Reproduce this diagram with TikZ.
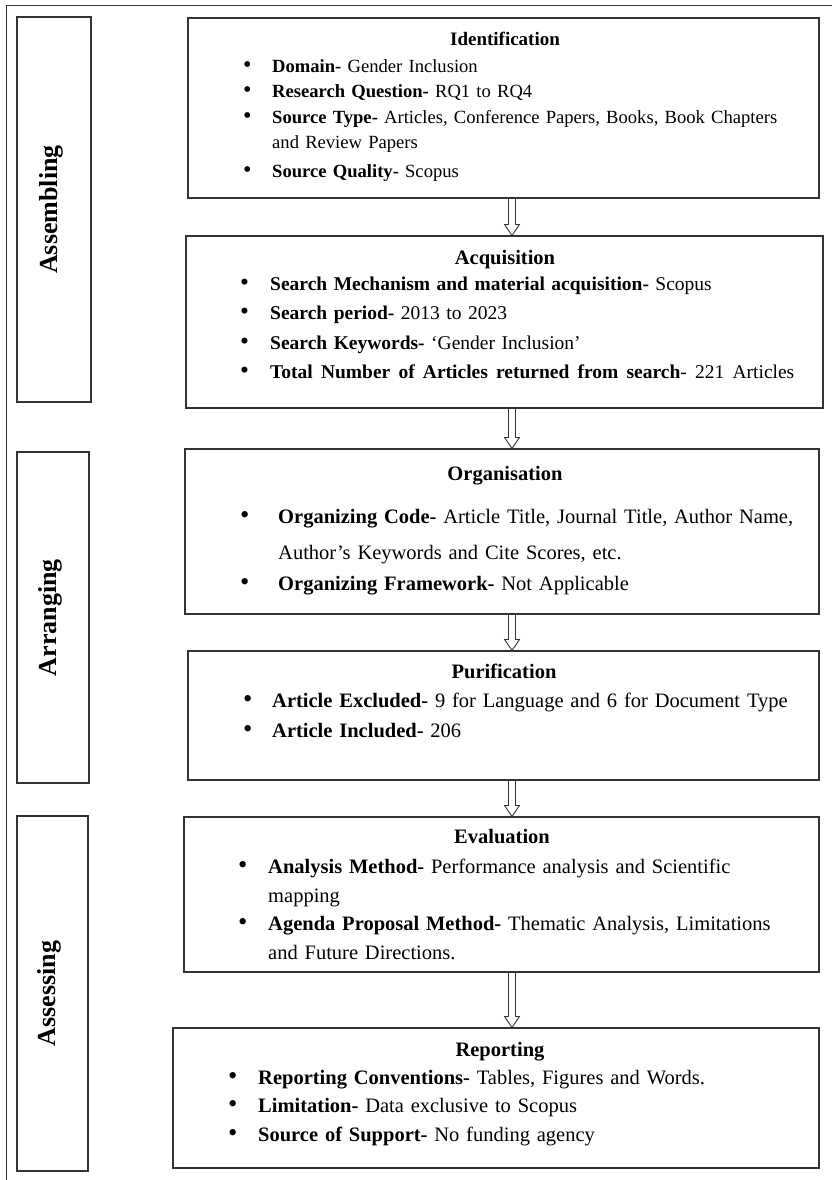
\documentclass[tikz,border=0pt]{standalone}
\usepackage{graphicx}
\usepackage{fontspec}
\setmainfont{Liberation Serif}
\usetikzlibrary{positioning}
\usetikzlibrary{fit}
\usetikzlibrary{calc}

\newcommand{\bitem}[3][30pt]{\makebox[#1][l]{\scalebox{1.3}{\textbullet}}\textbf{#2}#3}
\newcommand{\cont}[1][30pt]{\hspace*{#1}}

\begin{document}
\begin{tikzpicture}[x=1pt,y=-1pt,
		box/.style={draw=black!80,line width=1.1pt,inner sep=0pt},
		side/.style={font=\fontsize{26}{30}\selectfont\bfseries,rotate=90},
		head/.style={font=\fontsize{20.5}{24}\selectfont\bfseries,anchor=base},
		list/.style={anchor=north west,inner sep=0pt,text width=590pt,align=left},
		hollow/.style={draw=black!80,line width=0.9pt,to path={
			let \p1=(\tikztostart),\p2=(\tikztotarget) in
			(\x1-3.5pt,\y1) -- (\x1-3.5pt,\y2+11pt) -- (\x1-7.5pt,\y2+11pt)
			-- (\x1,\y2) -- (\x1+7.5pt,\y2+11pt) -- (\x1+3.5pt,\y2+11pt) -- (\x1+3.5pt,\y1)}}]
				    \useasboundingbox (0,0) rectangle (832,1180);
				    % Frame
				    \draw[black!80,line width=1pt] (832,6) -- (6,6) -- (6,1180);
				    % Stages
				    \node[box,fit={(17,17) (91,402)}] (assem) {};
				    \node[side] (assemT) at ([xshift=-3pt]assem.center) {Assembling};
				    \node[box,fit={(17,452) (89,783)}] (arran) {};
				    \node[side] (arranT) at ([xshift=-3pt]arran.center) {Arranging};
				    \node[box,fit={(17,816) (88,1171)}] (asses) {};
				    \node[side] (assesT) at ([xshift=-3pt]asses.center) {Assessing};
				
				    % Identification
				    \node[box,fit={(188,18) (819,198)}] (ident) {};
				    \node[head,font=\fontsize{19}{22}\selectfont\bfseries] (identT) at (505,46) {Identification};
				    \node[list,font=\fontsize{18.6}{25.5}\selectfont] (identL) at (243,59) {
				    	\bitem[29pt]{Domain- }{Gender Inclusion}\\
				    	\bitem[29pt]{Research Question- }{RQ1 to RQ4}\\
				    	\bitem[29pt]{Source Type- }{Articles, Conference Papers, Books, Book Chapters}\\
				    	\cont[29pt]and Review Papers\\[3.5pt]
				    	\bitem[29pt]{Source Quality- }{Scopus}};
				
				    % Acquisition
				    \node[box,fit={(186,236) (823,408)}] (acq) {};
				    \node[head] (acqT) at (505,264) {Acquisition};
				    \node[list,font=\fontsize{19.5}{29.5}\selectfont] (acqL) at (240,276.5) {
				    	\bitem{Search Mechanism and material acquisition- }{Scopus}\\
				    	\bitem{Search period- }{2013 to 2023}\\
				    	\bitem{Search Keywords- }{‘Gender Inclusion’}\\
				    	\bitem{}{{\spaceskip=8.2pt\textbf{Total Number of Articles returned from search}- 221 Articles}}};
				
				    % Organisation
				    \node[box,fit={(185,449) (819,614)}] (org) {};
				    \node[head] (orgT) at (505,480) {Organisation};
				    \node[list,font=\fontsize{20.5}{36}\selectfont] (orgL) at (240,509) {
				    	\bitem[38pt]{Organizing Code- }{Article Title, Journal Title, Author Name,}\\
				    	\cont[38pt]Author’s Keywords and Cite Scores, etc.\\[-5pt]
				    	\bitem[38pt]{Organizing Framework- }{Not Applicable}};
				
				    % Purification
				    \node[box,fit={(188,651) (819,780)}] (pur) {};
				    \node[head] (purT) at (504,678) {Purification};
				    \node[list,font=\fontsize{20.5}{30}\selectfont] (purL) at (243,693) {
				    	\bitem[29pt]{Article Excluded- }{9 for Language and 6 for Document Type}\\
				    	\bitem[29pt]{Article Included- }{206}};
				
				    % Evaluation
				    \node[box,fit={(184,817) (819,972)}] (eval) {};
				    \node[head] (evalT) at (502,843) {Evaluation};
				    \node[list,font=\fontsize{20.5}{28.5}\selectfont] (evalL) at (238,859) {
				    	\bitem{Analysis Method- }{Performance analysis and Scientific}\\
				    	\cont mapping\\
				    	\bitem{Agenda Proposal Method- }{Thematic Analysis, Limitations}\\
				    	\cont and Future Directions.};
				
				    % Reporting
				    \node[box,fit={(173,1028) (819,1168)}] (rep) {};
				    \node[head] (repT) at (500,1056) {Reporting};
				    \node[list,font=\fontsize{20.5}{28.5}\selectfont] (repL) at (228,1070) {
				    	\bitem{Reporting Conventions- }{Tables, Figures and Words.}\\
				    	\bitem{Limitation- }{Data exclusive to Scopus}\\
				    	\bitem{Source of Support- }{No funding agency}};
				
				    % Arrows
				    \coordinate (ax) at (512,0);
				    \draw[hollow] (ident.south -| ax) to (acq.north -| ax);
				    \draw[hollow] (acq.south -| ax) to (org.north -| ax);
				    \draw[hollow] (org.south -| ax) to (pur.north -| ax);
				    \draw[hollow] (pur.south -| ax) to (eval.north -| ax);
				    \draw[hollow] (eval.south -| ax) to (rep.north -| ax);
				\end{tikzpicture}
\end{document}
